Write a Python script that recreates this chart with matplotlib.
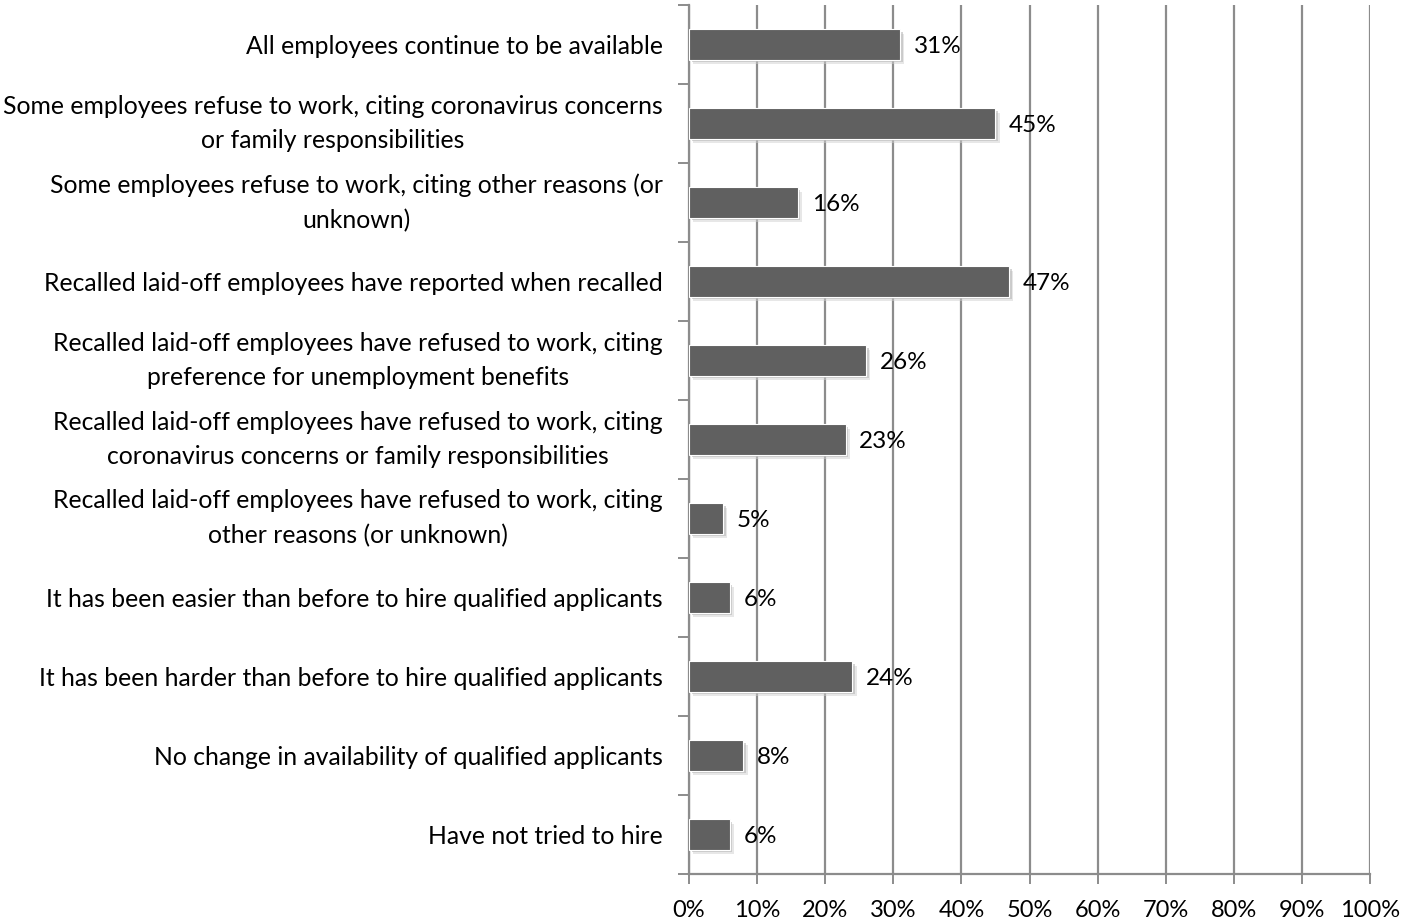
import matplotlib
matplotlib.use("Agg")
import matplotlib.pyplot as plt
import matplotlib.patheffects as pe
from matplotlib.ticker import FixedLocator, PercentFormatter
import numpy as np

plt.rcParams['font.family'] = ['Lato', 'DejaVu Sans']

categories = [
    "All employees continue to be available",
    "Some employees refuse to work, citing coronavirus concerns\nor family responsibilities",
    "Some employees refuse to work, citing other reasons (or\nunknown)",
    "Recalled laid-off employees have reported when recalled",
    "Recalled laid-off employees have refused to work, citing\npreference for unemployment benefits",
    "Recalled laid-off employees have refused to work, citing\ncoronavirus concerns or family responsibilities",
    "Recalled laid-off employees have refused to work, citing\nother reasons (or unknown)",
    "It has been easier than before to hire qualified applicants",
    "It has been harder than before to hire qualified applicants",
    "No change in availability of qualified applicants",
    "Have not tried to hire",
]
values = [31, 45, 16, 47, 26, 23, 5, 6, 24, 8, 6]
x_ticks = list(range(0, 101, 10))

W, H = 1402, 919
fig = plt.figure(figsize=(W / 100, H / 100), dpi=100)
ax = fig.add_axes([689 / W, 1 - 874 / H, (1370 - 689) / W, (874 - 5) / H])

n = len(categories)
y = np.arange(n)
bars = ax.barh(y, values, height=0.38, color='#606060', edgecolor='white',
               linewidth=0.8, zorder=3)
for b in bars:
    b.set_path_effects([
        pe.SimplePatchShadow(offset=(3.0, -3.0), shadow_rgbFace='#d0d0d0', alpha=0.5),
        pe.SimplePatchShadow(offset=(1.8, -1.8), shadow_rgbFace='#b8b8b8', alpha=0.6),
        pe.Normal()])

for yi, v in zip(y, values):
    ax.text(v + 2.0, yi, f"{v}%", va='center_baseline', ha='left', fontsize=17.5,
            color='black', zorder=4)

ax.set_xlim(0, 100)
ax.set_ylim(n - 0.5, -0.5)
ax.xaxis.set_major_locator(FixedLocator(x_ticks))
ax.xaxis.set_major_formatter(PercentFormatter(decimals=0))
ax.grid(axis='x', color='#8c8c8c', linewidth=1.6, zorder=0)
ax.set_axisbelow(True)

ax.set_yticks(y)
ax.set_yticklabels(categories, fontsize=17.8, ha='right', multialignment='center',
                   linespacing=1.62)
for lbl in ax.get_yticklabels():
    if "\n" in lbl.get_text():
        lbl.set_verticalalignment('center')
ax.tick_params(axis='y', length=0, pad=19)
ax.set_yticks(np.arange(-0.5, n, 1), minor=True)
ax.tick_params(axis='y', which='minor', length=8, width=1.4, color='#8c8c8c', direction='out')
ax.tick_params(axis='x', length=7, width=1.4, color='#8c8c8c', direction='out',
               labelsize=17, pad=12)

for s in ['top', 'right']:
    ax.spines[s].set_visible(False)
for s in ['left', 'bottom']:
    ax.spines[s].set_color('#8c8c8c')
    ax.spines[s].set_linewidth(1.6)

fig.savefig("out.png", dpi=100)
